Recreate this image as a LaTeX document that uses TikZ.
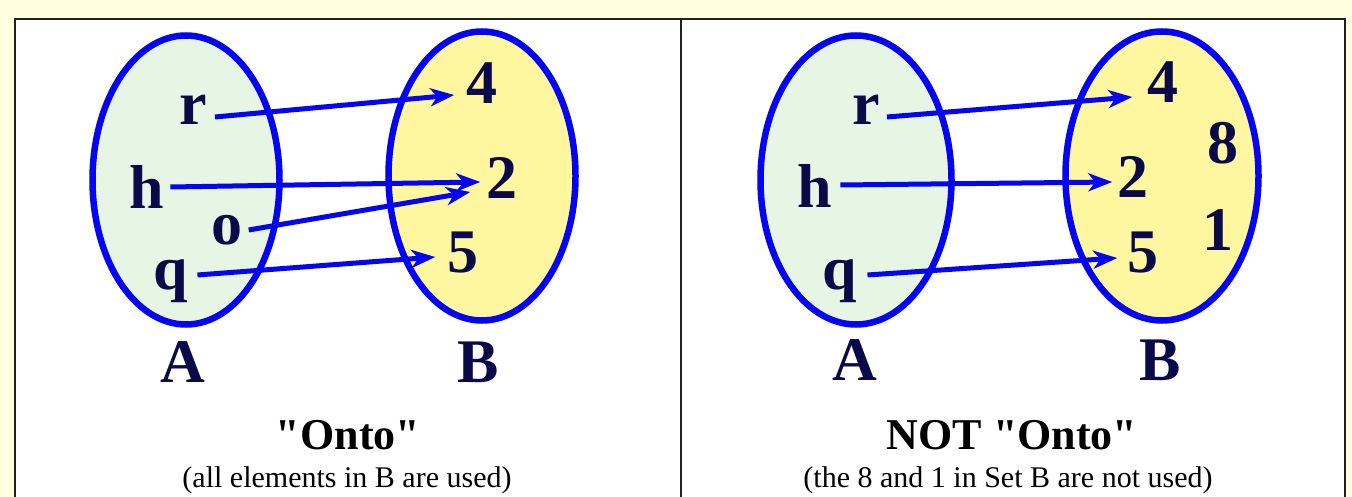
\documentclass[tikz,border=0pt]{standalone}
\usepackage{fontspec}
\setmainfont{Liberation Serif}
\usepackage{tikz}
\usetikzlibrary{arrows.meta,shapes.geometric}
\usepackage{xcolor}
\definecolor{setblue}{RGB}{5,5,240}
\definecolor{ink}{RGB}{10,10,72}
\definecolor{paleyellow}{RGB}{255,255,224}
\definecolor{greenfill}{RGB}{230,245,228}
\definecolor{yellowfill}{RGB}{255,246,160}

\begin{document}
\begin{tikzpicture}[x=1pt,y=-1pt,>={Stealth[length=24pt,width=18pt,inset=7pt]},line cap=round,
  frame/.style={gray!25!black,line width=2pt,line cap=butt},
  setA/.style={ellipse,draw=setblue,line width=6.5pt,fill=greenfill,minimum width=187pt,minimum height=289pt,inner sep=0pt},
  setB/.style={ellipse,draw=setblue,line width=6.5pt,fill=yellowfill,minimum width=187pt,minimum height=289pt,inner sep=0pt},
  elem/.style={inner sep=0pt,text=ink,font=\fontsize{62}{64}\selectfont\bfseries},
  conn/.style={->,setblue,line width=5pt,line cap=butt},
  title/.style={inner sep=0pt,font=\fontsize{44}{46}\selectfont\bfseries},
  note/.style={inner sep=0pt,font=\fontsize{30}{32}\selectfont}]
\useasboundingbox (0,0) rectangle (1352,497);
\fill[paleyellow] (0,0) rectangle (1352,497);
\fill[white] (15,19) rectangle (1345,497);
\draw[frame] (15,497) -- (15,19) -- (1345,19) -- (1345,497);
\draw[frame] (681,19) -- (681,497);

% left panel: onto
\node[setA] (lsetA) at (186,180) {};
\node[setB] (lsetB) at (482,176) {};
\node[elem] (lr) at (193,110) {r};
\node[elem] (lh) at (147,187) {h};
\node[elem] (lo) at (227,230) {o};
\node[elem] (lq) at (171,281) {q};
\node[elem] (l4) at (482,83) {4};
\node[elem] (l2) at (502,178) {2};
\node[elem] (l5) at (463,253) {5};
\node[elem] (lA) at (183,362) {A};
\node[elem] (lB) at (478,362) {B};
\draw[conn] ([xshift=8pt,yshift=-7pt]lr.east) -- ([xshift=-12pt,yshift=-12pt]l4.west);
\draw[conn] ([xshift=6pt]lh.east) -- ([xshift=-6pt,yshift=-4pt]l2.west);
\draw[conn] ([xshift=6pt]lo.east) -- ([xshift=-16pt,yshift=-14pt]l2.west);
\draw[conn] ([xshift=9pt,yshift=6pt]lq.east) -- ([xshift=-12pt,yshift=-4pt]l5.west);
\node[title] (ltitle) at (348,435) {\textquotedbl Onto\textquotedbl};
\node[note] (lnote) at (347,480) {(all elements in B are used)};

% right panel: not onto
\node[setA,minimum width=191pt] (rsetA) at (856,180) {};
\node[setB,minimum width=193pt] (rsetB) at (1162,176) {};
\node[elem] (rr) at (866,110) {r};
\node[elem] (rh) at (815,186) {h};
\node[elem] (rq) at (840,281) {q};
\node[elem] (r4) at (1163,82) {4};
\node[elem] (r8) at (1223,143) {8};
\node[elem] (r2) at (1133,177) {2};
\node[elem] (r1) at (1218,230) {1};
\node[elem] (r5) at (1143,253) {5};
\node[elem] (rA) at (855,360) {A};
\node[elem] (rB) at (1160,360) {B};
\draw[conn] ([xshift=7pt,yshift=-7pt]rr.east) -- ([xshift=-15pt,yshift=-15pt]r4.west);
\draw[conn] ([xshift=8pt,yshift=1pt]rh.east) -- ([xshift=-5pt,yshift=-5pt]r2.west);
\draw[conn] ([xshift=10pt,yshift=6pt]rq.east) -- ([xshift=-10pt,yshift=-5pt]r5.west);
\node[title] (rtitle) at (1012,435) {NOT \textquotedbl Onto\textquotedbl};
\node[note] (rnote) at (1008,480) {(the 8 and 1 in Set B are not used)};
\end{tikzpicture}
\end{document}
